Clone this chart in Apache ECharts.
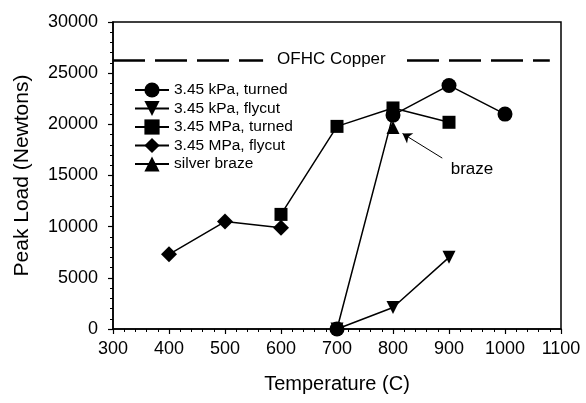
<!DOCTYPE html>
<html>
<head>
    <meta charset="utf-8">
    <script type="text/javascript" src="https://cdn.jsdelivr.net/npm/echarts@6.0.0/dist/echarts.min.js"></script>
    <title>Peak Load vs Temperature</title>
</head>
<body style="margin:0">
    <div id="container" style="width:586px;height:403px;"></div>
    <script type="text/javascript">
    // data: [temperature C, peak load N]
    var kpaTurned = [[700, 0], [800, 20900], [900, 23800], [1000, 21000]];
    var kpaFlycut = [[700, 0], [800, 2100], [900, 7000]];
    var mpaTurned = [[600, 11200], [700, 19800], [800, 21600], [900, 20200]];
    var mpaFlycut = [[400, 7300], [500, 10500], [600, 9900]];
    var silverBraze = [[800, 19700]];
    var copperLoad = 26300;

    var seriesNames = ['3.45 kPa, turned', '3.45 kPa, flycut', '3.45 MPa, turned', '3.45 MPa, flycut', 'silver braze'];
    var xTicks = { min: 300, max: 1100, step: 100 };
    var yTicks = { min: 0, max: 30000, step: 5000 };

    var myChart = echarts.init(document.getElementById('container'));

    var font = 'Liberation Sans, Arial, Helvetica, sans-serif';
    var lineStyle = { color: '#000', width: 1.5 };

    function lineSeries(name, data, symbol, size, z) {
        return {
            name: name,
            type: 'line',
            data: data,
            symbol: symbol,
            symbolSize: size,
            z: z,
            color: '#000',
            itemStyle: { color: '#000' },
            lineStyle: lineStyle,
            animation: false
        };
    }

    var downTri = 'path://M0,0 L10,0 L5,9 Z';

    var s0 = lineSeries(seriesNames[0], kpaTurned, 'circle', 15, 5);
    var s1 = lineSeries(seriesNames[1], kpaFlycut, downTri, 13, 3);
    var s2 = lineSeries(seriesNames[2], mpaTurned, 'rect', 13, 4);
    var s3 = lineSeries(seriesNames[3], mpaFlycut, 'diamond', 16, 3);
    var s4 = lineSeries(seriesNames[4], silverBraze, 'triangle', 13, 6);

    // OFHC copper reference line and the "braze" arrow
    s3.markLine = {
        silent: true,
        symbol: 'none',
        animation: false,
        data: [
            [{ coord: [300, copperLoad] }, { coord: [1080, copperLoad] }]
        ],
        lineStyle: { color: '#000', width: 2.5, type: [32, 10] },
        label: {
            show: true, position: 'middle', formatter: 'OFHC Copper',
            color: '#000', fontSize: 17, fontFamily: font,
            backgroundColor: '#fff', padding: [2, 14], offset: [0, 15]
        }
    };
    s4.markLine = {
        silent: true,
        symbol: ['none', 'arrow'],
        symbolSize: 9,
        animation: false,
        data: [
            [{ coord: [888, 16700] }, { coord: [817, 19100] }]
        ],
        lineStyle: { color: '#000', width: 1, type: 'solid' },
        label: { show: false }
    };
    s4.markPoint = {
        silent: true,
        animation: false,
        symbol: 'circle',
        symbolSize: 0,
        data: [{ coord: [941, 15650] }],
        label: {
            show: true, position: 'inside', formatter: 'braze',
            color: '#000', fontSize: 17, fontFamily: font
        }
    };

    var plain = function (v) { return String(v); };

    var option = {
        backgroundColor: '#fff',
        textStyle: { fontFamily: font },
        legend: {
            data: seriesNames,
            orient: 'vertical',
            left: 129,
            top: 77,
            itemWidth: 34,
            itemHeight: 19,
            itemGap: 2.5,
            textStyle: { fontSize: 15.5, color: '#000', fontFamily: font },
            selectedMode: false
        },
        grid: {
            left: 113, right: 25, top: 22, bottom: 74,
            show: true, borderColor: '#000', borderWidth: 1.5,
            backgroundColor: 'transparent',
            outerBoundsMode: 'none'
        },
        xAxis: {
            type: 'value',
            min: xTicks.min, max: xTicks.max, interval: xTicks.step,
            name: 'Temperature (C)',
            nameLocation: 'middle',
            nameGap: 45,
            nameTextStyle: { fontSize: 20, color: '#000', fontFamily: font },
            axisLine: { lineStyle: { color: '#000', width: 1.5 } },
            axisTick: { length: 5, lineStyle: { color: '#000', width: 1.2 } },
            minorTick: { show: true, splitNumber: 5, length: 3, lineStyle: { color: '#000', width: 1 } },
            splitLine: { show: false },
            axisLabel: { fontSize: 18, color: '#000', margin: 11, fontFamily: font, formatter: plain }
        },
        yAxis: {
            type: 'value',
            min: yTicks.min, max: yTicks.max, interval: yTicks.step,
            name: 'Peak Load (Newtons)',
            nameLocation: 'middle',
            nameGap: 80,
            nameTextStyle: { fontSize: 21, color: '#000', fontFamily: font },
            axisLine: { lineStyle: { color: '#000', width: 1.5 } },
            axisTick: { length: 5, lineStyle: { color: '#000', width: 1.2 } },
            minorTick: { show: true, splitNumber: 5, length: 3, lineStyle: { color: '#000', width: 1 } },
            splitLine: { show: false },
            axisLabel: { fontSize: 18, color: '#000', margin: 15, fontFamily: font, formatter: plain }
        },
        series: [s1, s3, s2, s0, s4]
    };

    myChart.setOption(option);
    </script>
</body>
</html>
